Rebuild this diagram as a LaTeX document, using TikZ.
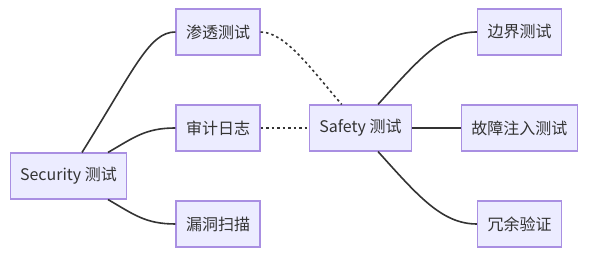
\documentclass[tikz,border=0pt]{standalone}
\usepackage{fontspec}
\setmainfont{Noto Sans CJK SC}
\usetikzlibrary{positioning,calc}
\definecolor{boxfill}{HTML}{ECECFF}
\definecolor{boxline}{HTML}{A98FE2}
\definecolor{lineDark}{HTML}{333333}
\tikzset{
  basebox/.style={rectangle,draw=boxline,fill=boxfill,line width=1.1pt,minimum height=46pt,
                  inner xsep=10pt,text=lineDark,font=\fontsize{16}{19}\selectfont},
  link/.style={line width=1.6pt,color=lineDark},
  dotlink/.style={link,dash pattern=on 2.5pt off 3pt}
}
\begin{document}
\begin{tikzpicture}[x=1pt,y=1pt]
  \useasboundingbox (0,0) rectangle (589,261);

  %% Security side
  \node[basebox,minimum width=115pt] (sec) at (68.5,85) {Security 测试};
  \node[basebox,minimum width=84pt] (pen) at (218,229) {渗透测试};
  \node[basebox,minimum width=84pt] (aud) at (218,133) {审计日志};
  \node[basebox,minimum width=84pt] (vul) at (218,37) {漏洞扫描};

  %% Safety side
  \node[basebox,minimum width=102pt] (saf) at (360.5,133) {Safety 测试};
  \node[basebox,minimum width=84pt] (bnd) at (519.5,229) {边界测试};
  \node[basebox,minimum width=116pt] (flt) at (519.3,133) {故障注入测试};
  \node[basebox,minimum width=84pt] (red) at (519.5,37) {冗余验证};

  %% Links
  \draw[link] ([xshift=13.5pt]sec.north) .. controls +(58:100) and +(-26,0) .. (pen.west);
  \draw[link] ([xshift=39.5pt]sec.north) .. controls +(30:30) and +(-30,0) .. (aud.west);
  \draw[link] ([xshift=39.5pt]sec.south) .. controls +(-30:30) and +(-30,0) .. (vul.west);

  \draw[dotlink] (pen.east) .. controls +(25,0) and +(131:45) .. ([xshift=-18.8pt]saf.north);
  \draw[dotlink] (aud.east) -- (saf.west);

  \draw[link] ([xshift=17.5pt]saf.north) .. controls +(48:60) and +(-35,0) .. (bnd.west);
  \draw[link] (saf.east) -- (flt.west);
  \draw[link] ([xshift=17.5pt]saf.south) .. controls +(-48:60) and +(-35,0) .. (red.west);
\end{tikzpicture}
\end{document}
